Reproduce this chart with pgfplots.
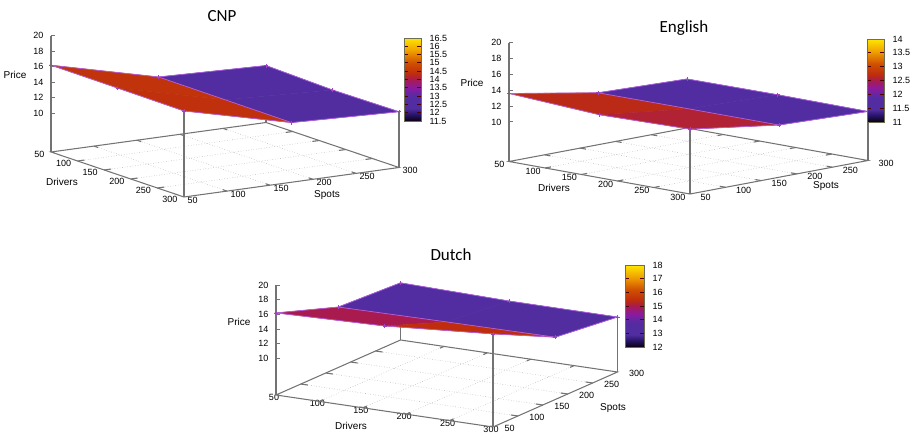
\documentclass[border=0pt]{standalone}
\usepackage{fontspec}
\setmainfont{Liberation Sans}
\newfontfamily\titlefont{Carlito}
\usepackage{pgfplots}
\pgfplotsset{compat=1.18}
\definecolor{axgray}{RGB}{115,115,115}
\definecolor{griddot}{RGB}{190,190,190}
\definecolor{outl}{RGB}{176,96,224}
\definecolor{cbframe}{RGB}{110,110,80}
\pgfplotsset{
  colormap={gp}{rgb255(0pt)=(10,0,16) rgb255(8pt)=(40,20,105) rgb255(15pt)=(80,45,160) rgb255(30pt)=(84,44,162)
    rgb255(40pt)=(138,26,160) rgb255(50pt)=(168,26,80) rgb255(57pt)=(190,44,14) rgb255(70pt)=(208,80,0)
    rgb255(85pt)=(240,160,0) rgb255(100pt)=(255,230,0)},
  gp3d/.style={
    clip=false, anchor=south west, xmin=50,xmax=300,ymin=50,ymax=300,zmin=5,zmax=20,
    xtick={50,100,150,200,250,300},ytick={50,100,150,200,250,300},ztick={10,12,14,16,18,20},
    tick style={draw=none}, axis line style={draw=none}, grid=none,
    ticklabel style={font=\fontsize{9}{10}\selectfont},
    label style={font=\fontsize{9}{10}\selectfont},
    /pgf/number format/assume math mode=true,
    zticklabel style={anchor=east,xshift=-4pt},
    xlabel=Drivers, ylabel=Spots, zlabel=Price,
  },
  gpcb/.style={
    anchor=south west, scale only axis, width=17pt, height=83pt, xmin=0,xmax=1, xtick=\empty,
    ytick pos=both, yticklabel pos=right, axis line style={cbframe,line width=0.8pt},
    tick style={black!70!red,line width=0.8pt}, major tick length=4pt,
    ticklabel style={font=\fontsize{9}{10}\selectfont},
    /pgf/number format/assume math mode=true, /pgf/number format/fixed,
    yticklabel shift=5pt, axis on top,
  },
  gpsurf/.style={surf, shader=flat mean, mesh/rows=3, point meta=z, draw=none},
  gpline/.style={outl, line width=0.7pt, no markers},
  gpmark/.style={outl, line width=0.7pt, mark=+, mark size=2pt, mark options={solid,line width=0.6pt,color=outl!70!violet}},
  gpvert/.style={axgray, line width=1.05pt, no markers},
}
\newcommand\gpframe{%
  \pgfplotsinvokeforeach{100,150,200,250}{%
    \draw[griddot,dotted,line width=0.6pt] (axis cs:##1,50,5) -- (axis cs:##1,300,5);
    \draw[griddot,dotted,line width=0.6pt] (axis cs:50,##1,5) -- (axis cs:300,##1,5);
    \draw[axgray,line width=1.1pt] (axis cs:##1,50,5) -- (axis cs:##1,58,5);
    \draw[axgray,line width=1.1pt] (axis cs:##1,300,5) -- (axis cs:##1,292,5);
    \draw[axgray,line width=1.1pt] (axis cs:50,##1,5) -- (axis cs:58,##1,5);
    \draw[axgray,line width=1.1pt] (axis cs:300,##1,5) -- (axis cs:292,##1,5);
  }%
  \draw[axgray,line width=1.05pt] (axis cs:50,50,5) -- (axis cs:300,50,5) -- (axis cs:300,300,5) -- (axis cs:50,300,5) -- cycle;
  \draw[axgray,line width=1.05pt] (axis cs:50,50,5) -- (axis cs:50,50,20);
  \pgfplotsinvokeforeach{10,12,14,16,18,20}{%
    \draw[axgray,line width=0.9pt] (axis cs:50,50,##1) -- ++(4pt,0pt);
  }%
}
\begin{document}
\begin{tikzpicture}[x=1pt,y=1pt]
\useasboundingbox (0,0) rectangle (915,434);
% ---------- CNP
\node[font=\titlefont\fontsize{17}{18}\selectfont] at (222,418) {CNP};
\begin{axis}[gp3d, at={(51pt,237pt)},
  x={(0.532pt,-0.18pt)}, y={(0.86pt,0.118pt)}, z={(0pt,7.75pt)},
  point meta min=11.5, point meta max=16.5,
  every axis x label/.style={at={(axis cs:50,50,5)},anchor=center,xshift=11pt,yshift=-30pt},
  every axis y label/.style={at={(axis cs:50,50,5)},anchor=center,xshift=276pt,yshift=-43pt},
  every axis z label/.style={at={(axis cs:50,50,5)},anchor=center,xshift=-36pt,yshift=77pt},
  xticklabel style={anchor=east,xshift=-3pt,yshift=-2pt},
  yticklabel style={anchor=west,xshift=0pt,yshift=-3pt},
]
\gpframe
\addplot3[gpvert] coordinates {(300,50,5)(300,50,16.1)};
\addplot3[gpvert] coordinates {(300,300,5)(300,300,12.2)};
\addplot3[gpvert] coordinates {(50,300,5)(50,300,12.35)};
\addplot3[gpsurf] coordinates {
(50,50,16.2)(175,50,16.16)(300,50,16.1)

(50,175,12.78)(175,175,12.74)(300,175,12.7)

(50,300,12.35)(175,300,12.1)(300,300,12.2)
};
\addplot3[gpline] coordinates {(50,175,12.78)(175,175,12.74)(300,175,12.7)};
\addplot3[gpmark] coordinates {(50,50,16.2)(175,50,16.16)(300,50,16.1)(300,175,12.7)(300,300,12.2)(175,300,12.1)(50,300,12.35)(50,175,12.78)(50,50,16.2)};
\end{axis}
\begin{axis}[gpcb, at={(404pt,313pt)}, ymin=11.5,ymax=16.5, point meta min=11.5, point meta max=16.5,
  ytick={11.5,12,12.5,13,13.5,14,14.5,15,15.5,16,16.5}]
\addplot[surf,shader=interp,point meta=y,mesh/cols=2] coordinates {(0,11.5)(1,11.5)(0,16.5)(1,16.5)};
\end{axis}
% ---------- English
\node[font=\titlefont\fontsize{17}{18}\selectfont] at (684,406) {English};
\begin{axis}[gp3d, at={(509pt,240pt)},
  x={(0.724pt,-0.13pt)}, y={(0.712pt,0.134pt)}, z={(0pt,7.91pt)},
  point meta min=10.75, point meta max=13.75,
  every axis x label/.style={at={(axis cs:50,50,5)},anchor=center,xshift=45pt,yshift=-26pt},
  every axis y label/.style={at={(axis cs:50,50,5)},anchor=center,xshift=317pt,yshift=-25pt},
  every axis z label/.style={at={(axis cs:50,50,5)},anchor=center,xshift=-37pt,yshift=79pt},
  xticklabel style={anchor=east,xshift=-1pt,yshift=-3pt},
  yticklabel style={anchor=west,xshift=7pt,yshift=-3pt},
]
\gpframe
\addplot3[gpvert] coordinates {(300,50,5)(300,50,13.2)};
\addplot3[gpvert] coordinates {(300,300,5)(300,300,11.2)};
\addplot3[gpvert] coordinates {(50,300,5)(50,300,11.2)};
\addplot3[gpsurf] coordinates {
(50,50,13.6)(175,50,12.96)(300,50,13.2)

(50,175,11.57)(175,175,11.6)(300,175,11.6)

(50,300,11.2)(175,300,11.26)(300,300,11.2)
};
\addplot3[gpline] coordinates {(50,175,11.57)(175,175,11.6)(300,175,11.6)};
\addplot3[gpmark] coordinates {(50,50,13.6)(175,50,12.96)(300,50,13.2)(300,175,11.6)(300,300,11.2)(175,300,11.26)(50,300,11.2)(50,175,11.57)(50,50,13.6)};
\end{axis}
\begin{axis}[gpcb, at={(867pt,312pt)}, ymin=11,ymax=14, point meta min=11, point meta max=14,
  ytick={11,11.5,12,12.5,13,13.5,14}]
\addplot[surf,shader=interp,point meta=y,mesh/cols=2] coordinates {(0,11)(1,11)(0,14)(1,14)};
\end{axis}
% ---------- Dutch
\node[font=\titlefont\fontsize{17}{18}\selectfont] at (451,179) {Dutch};
\begin{axis}[gp3d, at={(276pt,7pt)},
  x={(0.868pt,-0.128pt)}, y={(0.498pt,0.22pt)}, z={(0pt,7.33pt)},
  point meta min=11.85, point meta max=17.85,
  every axis x label/.style={at={(axis cs:50,50,5)},anchor=center,xshift=75pt,yshift=-31pt},
  every axis y label/.style={at={(axis cs:50,50,5)},anchor=center,xshift=337pt,yshift=-13pt},
  every axis z label/.style={at={(axis cs:50,50,5)},anchor=center,xshift=-37pt,yshift=73pt},
  xticklabel style={anchor=center,xshift=-2pt,yshift=-2.5pt},
  yticklabel style={anchor=west,xshift=8pt,yshift=-1pt},
]
\gpframe
\addplot3[gpvert] coordinates {(300,50,5)(300,50,17.7)};
\addplot3[gpvert] coordinates {(300,300,5)(300,300,12.5)};
\addplot3[gpvert] coordinates {(50,300,5)(50,300,12.8)};
\addplot3[gpsurf] coordinates {
(50,50,16.2)(175,50,16.6)(300,50,17.7)

(50,175,13.25)(175,175,13.4)(300,175,13.5)

(50,300,12.8)(175,300,12.5)(300,300,12.5)
};
\addplot3[gpline] coordinates {(50,175,13.25)(175,175,13.4)(300,175,13.5)};
\addplot3[gpmark] coordinates {(50,50,16.2)(175,50,16.6)(300,50,17.7)(300,175,13.5)(300,300,12.5)(175,300,12.5)(50,300,12.8)(50,175,13.25)(50,50,16.2)};
\end{axis}
\begin{axis}[gpcb, at={(625pt,87pt)}, width=19pt, height=82pt, ymin=12,ymax=18, point meta min=12, point meta max=18,
  ytick={12,13,14,15,16,17,18}]
\addplot[surf,shader=interp,point meta=y,mesh/cols=2] coordinates {(0,12)(1,12)(0,18)(1,18)};
\end{axis}
\end{tikzpicture}
\end{document}
